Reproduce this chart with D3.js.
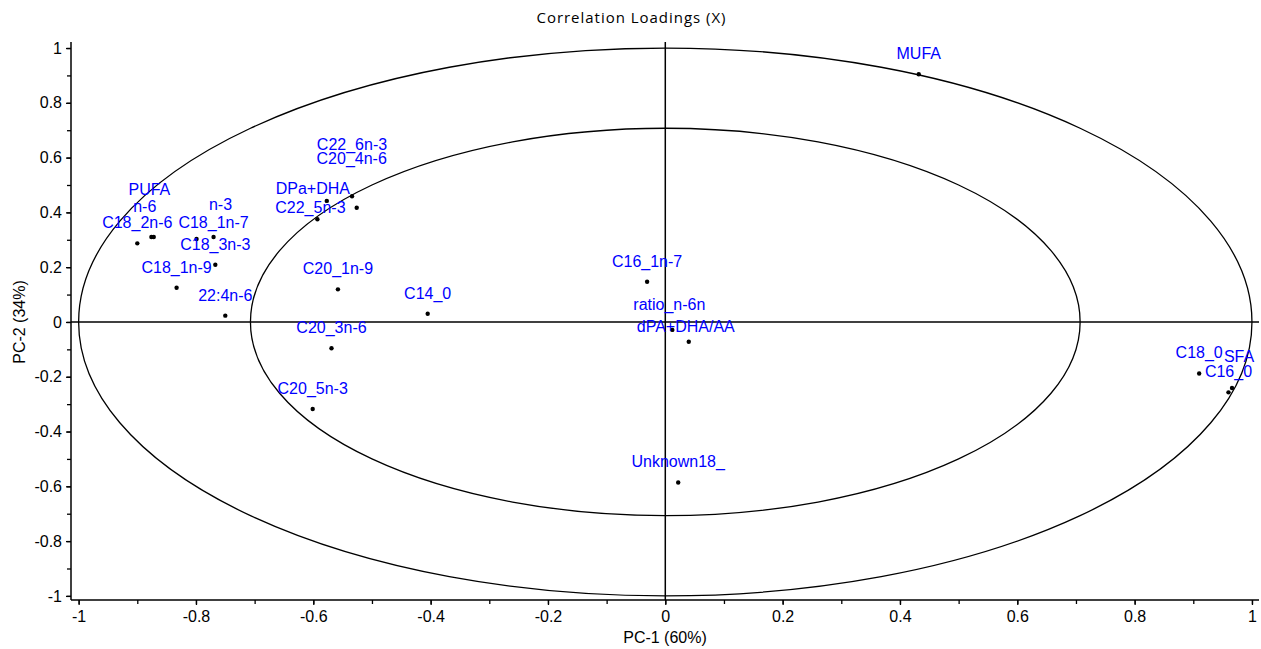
<!DOCTYPE html>
<html>
<head>
<meta charset="utf-8">
<script src="https://cdn.jsdelivr.net/npm/d3@7"></script>
<style>
  body { margin: 0; background: #fff; }
  svg { display: block; }
</style>
</head>
<body>
<div id="chart"></div>
<script>
// variable names and their loadings on PC-1 / PC-2
const variables = [
  "MUFA", "C22_6n-3", "C20_4n-6", "DPa+DHA", "C22_5n-3",
  "PUFA", "n-6", "C18_2n-6", "n-3", "C18_1n-7", "C18_3n-3",
  "C18_1n-9", "22:4n-6", "C20_1n-9", "C14_0", "C20_3n-6",
  "C20_5n-3", "C16_1n-7", "ratio_n-6n", "dPA+DHA/AA",
  "Unknown18_", "C18_0", "SFA", "C16_0"
];
const pc1 = [
  0.432, -0.534, -0.526, -0.577, -0.593,
  -0.876, -0.872, -0.900, -0.799, -0.770, -0.767,
  -0.833, -0.750, -0.558, -0.405, -0.569,
  -0.601, -0.031, 0.012, 0.040,
  0.022, 0.910, 0.966, 0.960
];
const pc2 = [
  0.904, 0.459, 0.417, 0.442, 0.375,
  0.310, 0.310, 0.287, 0.303, 0.310, 0.209,
  0.125, 0.023, 0.119, 0.030, -0.096,
  -0.318, 0.147, -0.029, -0.072,
  -0.586, -0.188, -0.241, -0.257
];
const xTicks = [-1, -0.8, -0.6, -0.4, -0.2, 0, 0.2, 0.4, 0.6, 0.8, 1];
const yTicks = [-1, -0.8, -0.6, -0.4, -0.2, 0, 0.2, 0.4, 0.6, 0.8, 1];
const circleRadii = [1, Math.SQRT1_2];

// label placement tweaks where names overlap (pixels from the point)
const nudge = {
  "PUFA": [-2, -42], "n-6": [-9, -25], "n-3": [24, -29], "C18_1n-7": [0, -9],
  "C22_6n-3": [0, -46], "C20_4n-6": [-5, -44], "DPa+DHA": [-14, -7],
  "C22_5n-3": [-7, -6], "ratio_n-6n": [-3, -20], "dPA+DHA/AA": [-3, -10],
  "SFA": [7, -26]
};

const W = 1261, H = 649;
const plot = { left: 71, right: 1259, top: 42, bottom: 600 };

const svg = d3.select("#chart").append("svg")
  .attr("width", W)
  .attr("height", H);

const x = d3.scaleLinear().domain([-1.013, 1.012]).range([plot.left, plot.right]);
const y = d3.scaleLinear().domain([-1.015, 1.022]).range([plot.bottom, plot.top]);

const font = "'Liberation Sans', Arial, sans-serif";

// title
svg.append("text")
  .attr("x", 631)
  .attr("y", 23)
  .attr("text-anchor", "middle")
  .attr("textLength", 189)
  .attr("lengthAdjust", "spacing")
  .style("font-family", "'Open Sans', sans-serif")
  .style("font-size", "15px")
  .style("fill", "#000")
  .text("Correlation Loadings (X)");

// ellipses (correlation circles)
svg.selectAll(".ring")
  .data(circleRadii)
  .enter().append("ellipse")
  .attr("class", "ring")
  .attr("cx", x(0))
  .attr("cy", y(0))
  .attr("rx", d => x(d) - x(0))
  .attr("ry", d => y(0) - y(d))
  .attr("fill", "none")
  .attr("stroke", "#000")
  .attr("stroke-width", 1.3);

// zero lines
svg.append("line")
  .attr("x1", plot.left).attr("x2", plot.right)
  .attr("y1", y(0)).attr("y2", y(0))
  .attr("stroke", "#000").attr("stroke-width", 1.5);
svg.append("line")
  .attr("x1", x(0)).attr("x2", x(0))
  .attr("y1", plot.top).attr("y2", plot.bottom)
  .attr("stroke", "#000").attr("stroke-width", 1.5);

// axes
const minorX = d3.range(-1, 1.001, 0.1).map(d => +d.toFixed(1));
const minorY = minorX;

const xAxis = svg.append("g")
  .attr("transform", `translate(0,${plot.bottom})`);
xAxis.call(d3.axisBottom(x).tickValues(minorX).tickSize(4).tickFormat(""))
  .call(g => g.select(".domain").remove());
xAxis.append("g")
  .call(d3.axisBottom(x).tickValues(xTicks).tickSize(5).tickSizeOuter(0).tickPadding(6)
    .tickFormat(d => String(d)));
xAxis.selectAll(".domain")
  .attr("d", `M${plot.left},0H${plot.right}`)
  .attr("stroke-width", 1.5);

const yAxis = svg.append("g")
  .attr("transform", `translate(${plot.left},0)`);
yAxis.call(d3.axisLeft(y).tickValues(minorY).tickSize(4).tickFormat(""))
  .call(g => g.select(".domain").remove());
yAxis.append("g")
  .call(d3.axisLeft(y).tickValues(yTicks).tickSize(5).tickSizeOuter(0).tickPadding(4)
    .tickFormat(d => String(d)));
yAxis.selectAll(".domain")
  .attr("d", `M0,${plot.top}V${plot.bottom}`)
  .attr("stroke-width", 1.5);

svg.selectAll(".tick line").attr("stroke-width", 1.3);
svg.selectAll(".tick text")
  .style("font-family", font)
  .style("font-size", "16px")
  .style("fill", "#000");

// axis titles
svg.append("text")
  .attr("x", 665)
  .attr("y", 643)
  .attr("text-anchor", "middle")
  .style("font-family", font)
  .style("font-size", "16px")
  .text("PC-1 (60%)");

svg.append("text")
  .attr("transform", "rotate(-90)")
  .attr("x", -322)
  .attr("y", 25)
  .attr("text-anchor", "middle")
  .style("font-family", font)
  .style("font-size", "16px")
  .text("PC-2 (34%)");

// points and labels
const data = variables.map((name, i) => ({ name, x: pc1[i], y: pc2[i] }));

svg.selectAll(".pt")
  .data(data)
  .enter().append("circle")
  .attr("class", "pt")
  .attr("cx", d => x(d.x))
  .attr("cy", d => y(d.y))
  .attr("r", 2.2)
  .attr("fill", "#000");

svg.selectAll(".lbl")
  .data(data)
  .enter().append("text")
  .attr("class", "lbl")
  .attr("x", d => x(d.x) + (nudge[d.name] ? nudge[d.name][0] : 0))
  .attr("y", d => y(d.y) + (nudge[d.name] ? nudge[d.name][1] : -15))
  .attr("text-anchor", "middle")
  .style("font-family", font)
  .style("font-size", "16px")
  .style("fill", "#0000ff")
  .text(d => d.name);
</script>
</body>
</html>
